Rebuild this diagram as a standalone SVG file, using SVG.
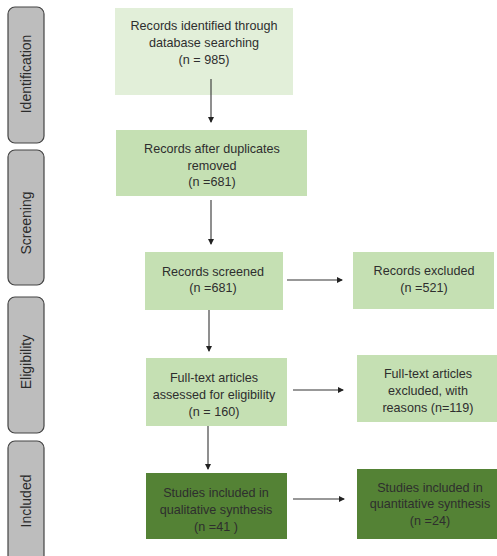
<svg xmlns="http://www.w3.org/2000/svg" width="497" height="556" viewBox="0 0 497 556">
<style>
.side{fill:#bdbdbd;stroke:#444;stroke-width:1.2}
.st{font-family:"Liberation Sans",Arial,sans-serif;font-size:14px;fill:#2b2b2b;text-anchor:middle;dominant-baseline:central}
.t{font-family:"Liberation Sans",Arial,sans-serif;font-size:12.6px;fill:#2e2e2e;text-anchor:middle;dominant-baseline:central}
.l1{fill:#e2efd9}
.l2{fill:#c5e0b3}
.d{fill:#548235}
.c{stroke:#333;stroke-width:1.1;fill:none;marker-end:url(#ah)}
</style>
<defs>
<marker id="ah" markerWidth="6" markerHeight="6" refX="5" refY="3" orient="auto" markerUnits="userSpaceOnUse">
<path d="M0,0 L6,3 L0,6 Z" fill="#222"/>
</marker>
</defs>
<rect width="497" height="556" fill="#fff"/>
<g id="phase-identification"><rect class="side" x="8" y="7" width="36" height="136" rx="7"/><text class="st" transform="translate(26,74) rotate(-90)">Identification</text></g>
<g id="phase-screening"><rect class="side" x="8" y="150" width="36" height="135" rx="7"/><text class="st" transform="translate(26,223) rotate(-90)">Screening</text></g>
<g id="phase-eligibility"><rect class="side" x="8" y="297" width="36" height="136" rx="7"/><text class="st" transform="translate(26,362) rotate(-90)">Eligibility</text></g>
<g id="phase-included"><rect class="side" x="8" y="441" width="36" height="125" rx="7"/><text class="st" transform="translate(26,501) rotate(-90)">Included</text></g>

<g id="n1"><rect class="l1" x="115" y="8" width="178" height="87"/>
<text class="t" x="204" y="26">Records identified through</text><text class="t" x="204" y="43">database searching</text><text class="t" x="204" y="60">(n = 985)</text></g>
<g id="n2"><rect class="l2" x="116" y="130" width="191" height="66"/>
<text class="t" x="212" y="149">Records after duplicates</text><text class="t" x="212" y="166">removed</text><text class="t" x="212" y="182">(n =681)</text></g>
<g id="n3"><rect class="l2" x="145" y="252" width="138" height="58"/>
<text class="t" x="213" y="272">Records screened</text><text class="t" x="213" y="288">(n =681)</text></g>
<g id="n4"><rect class="l2" x="353" y="252" width="141" height="57"/>
<text class="t" x="424" y="271">Records excluded</text><text class="t" x="424" y="288">(n =521)</text></g>
<g id="n5"><rect class="l2" x="146" y="358" width="141" height="68"/>
<text class="t" x="214" y="378">Full-text articles</text><text class="t" x="214" y="395">assessed for eligibility</text><text class="t" x="214" y="412">(n = 160)</text></g>
<g id="n6"><rect class="l2" x="357" y="355" width="140" height="67"/>
<text class="t" x="428" y="374">Full-text articles</text><text class="t" x="428" y="391">excluded, with</text><text class="t" x="428" y="408">reasons (n=119)</text></g>
<g id="n7"><rect class="d" x="146" y="473" width="141" height="66"/>
<text class="t" x="216" y="493">Studies included in</text><text class="t" x="216" y="510">qualitative synthesis</text><text class="t" x="216" y="527">(n =41 )</text></g>
<g id="n8"><rect class="d" x="357" y="469" width="140" height="70"/>
<text class="t" x="430" y="488">Studies included in</text><text class="t" x="430" y="504">quantitative synthesis</text><text class="t" x="430" y="521">(n =24)</text></g>

<g id="connectors">
<line class="c" x1="211" y1="79" x2="211" y2="122"/>
<line class="c" x1="211" y1="200" x2="211" y2="244"/>
<line class="c" x1="209" y1="310" x2="209" y2="351"/>
<line class="c" x1="208" y1="426" x2="208" y2="469"/>
<line class="c" x1="287" y1="280" x2="342" y2="280"/>
<line class="c" x1="293" y1="390" x2="343" y2="390"/>
<line class="c" x1="293" y1="499" x2="344" y2="499"/>
</g>
</svg>
